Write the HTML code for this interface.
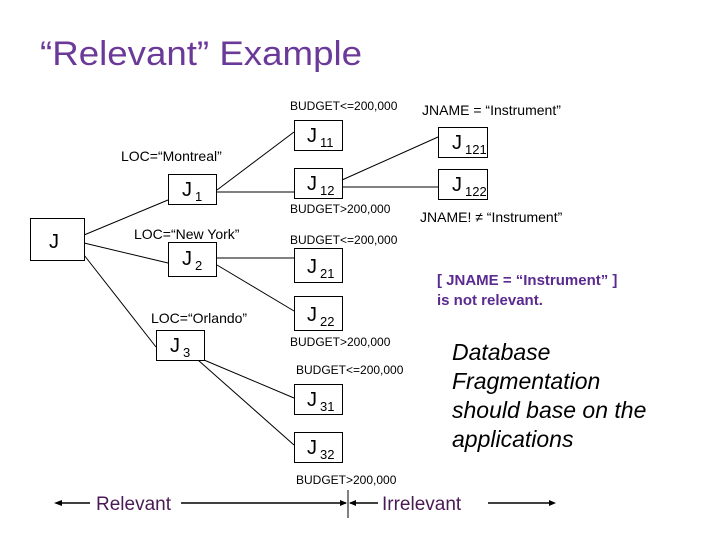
<!DOCTYPE html>
<html><head><style>html,body{margin:0;padding:0;background:#fff;width:720px;height:540px;overflow:hidden}</style></head>
<body>
<svg width="720" height="540" viewBox="0 0 720 540" xmlns="http://www.w3.org/2000/svg" font-family="Liberation Sans, sans-serif">
<text x="40" y="65" font-size="34" fill="#6b3a98" textLength="322" lengthAdjust="spacingAndGlyphs">“Relevant” Example</text>
<g stroke="#000" stroke-width="1" fill="none">
<line x1="84" y1="235" x2="168" y2="200"/>
<line x1="84" y1="243" x2="168" y2="263"/>
<line x1="84" y1="255" x2="156" y2="347"/>
<line x1="217" y1="190" x2="294" y2="132"/>
<line x1="217" y1="192" x2="294" y2="192"/>
<line x1="217" y1="258" x2="294" y2="258"/>
<line x1="217" y1="265" x2="294" y2="311"/>
<line x1="204" y1="360" x2="294" y2="398"/>
<line x1="198" y1="360" x2="294" y2="445"/>
<line x1="342" y1="180" x2="438" y2="137"/>
<line x1="342" y1="187" x2="438" y2="187"/>
<rect x="30.5" y="218.5" width="54" height="42" fill="#fff"/>
<rect x="168.5" y="174.5" width="48" height="30" fill="#fff"/>
<rect x="168.5" y="242.5" width="48" height="34" fill="#fff"/>
<rect x="156.5" y="330.5" width="48" height="30" fill="#fff"/>
<rect x="294.5" y="120.5" width="48" height="30" fill="#fff"/>
<rect x="294.5" y="168.5" width="48" height="30" fill="#fff"/>
<rect x="294.5" y="248.5" width="48" height="34" fill="#fff"/>
<rect x="294.5" y="296.5" width="48" height="34" fill="#fff"/>
<rect x="294.5" y="384.5" width="48" height="30" fill="#fff"/>
<rect x="294.5" y="432.5" width="48" height="30" fill="#fff"/>
<rect x="438.5" y="127.5" width="49" height="30" fill="#fff"/>
<rect x="438.5" y="169.5" width="49" height="30" fill="#fff"/>
</g>
<g font-size="20" fill="#000">
<text x="49" y="248">J</text>
<text x="182" y="196">J<tspan font-size="13" dx="3" dy="5">1</tspan></text>
<text x="182" y="265">J<tspan font-size="13" dx="3" dy="5">2</tspan></text>
<text x="170" y="352">J<tspan font-size="13" dx="3" dy="5">3</tspan></text>
<text x="307" y="142">J<tspan font-size="13" dx="3" dy="5">11</tspan></text>
<text x="307" y="190">J<tspan font-size="13" dx="3" dy="5">12</tspan></text>
<text x="307" y="273">J<tspan font-size="13" dx="3" dy="5">21</tspan></text>
<text x="307" y="321">J<tspan font-size="13" dx="3" dy="5">22</tspan></text>
<text x="307" y="406">J<tspan font-size="13" dx="3" dy="5">31</tspan></text>
<text x="307" y="454">J<tspan font-size="13" dx="3" dy="5">32</tspan></text>
<text x="452" y="149">J<tspan font-size="13" dx="3" dy="5">121</tspan></text>
<text x="452" y="191">J<tspan font-size="13" dx="3" dy="5">122</tspan></text>
</g>
<g font-size="12" fill="#000">
<text x="290" y="110">BUDGET&lt;=200,000</text>
<text x="290" y="213">BUDGET&gt;200,000</text>
<text x="290" y="244">BUDGET&lt;=200,000</text>
<text x="290" y="346">BUDGET&gt;200,000</text>
<text x="296" y="374">BUDGET&lt;=200,000</text>
<text x="296" y="484">BUDGET&gt;200,000</text>
</g>
<g font-size="14" fill="#000">
<text x="121" y="161">LOC=“Montreal”</text>
<text x="134" y="239">LOC=“New York”</text>
<text x="151" y="323">LOC=“Orlando”</text>
<text x="422" y="115">JNAME = “Instrument”</text>
<text x="420" y="222">JNAME! ≠ “Instrument”</text>
</g>
<g font-size="15" font-weight="bold" fill="#5a2a90">
<text x="437" y="285">[ JNAME = “Instrument” ]</text>
<text x="437" y="305">is not relevant.</text>
</g>
<g font-size="23" font-style="italic" fill="#000">
<text x="452" y="360">Database</text>
<text x="452" y="389">Fragmentation</text>
<text x="452" y="418">should base on the</text>
<text x="452" y="447">applications</text>
</g>
<g stroke="#000" stroke-width="1.5">
<line x1="60" y1="503" x2="90" y2="503"/>
<line x1="181" y1="503" x2="346" y2="503"/>
<line x1="350" y1="503" x2="378" y2="503"/>
<line x1="488" y1="503" x2="552" y2="503"/>
<line x1="348" y1="490" x2="348" y2="518" stroke-width="1"/>
</g>
<g fill="#000">
<polygon points="54,503 62,500 62,506"/>
<polygon points="347,503 340,500 340,506"/>
<polygon points="349,503 356,500 356,506"/>
<polygon points="556,503 549,500 549,506"/>
</g>
<g font-size="19" fill="#4a1a55">
<text x="96" y="510">Relevant</text>
<text x="382" y="510">Irrelevant</text>
</g>
</svg>
</body></html>
